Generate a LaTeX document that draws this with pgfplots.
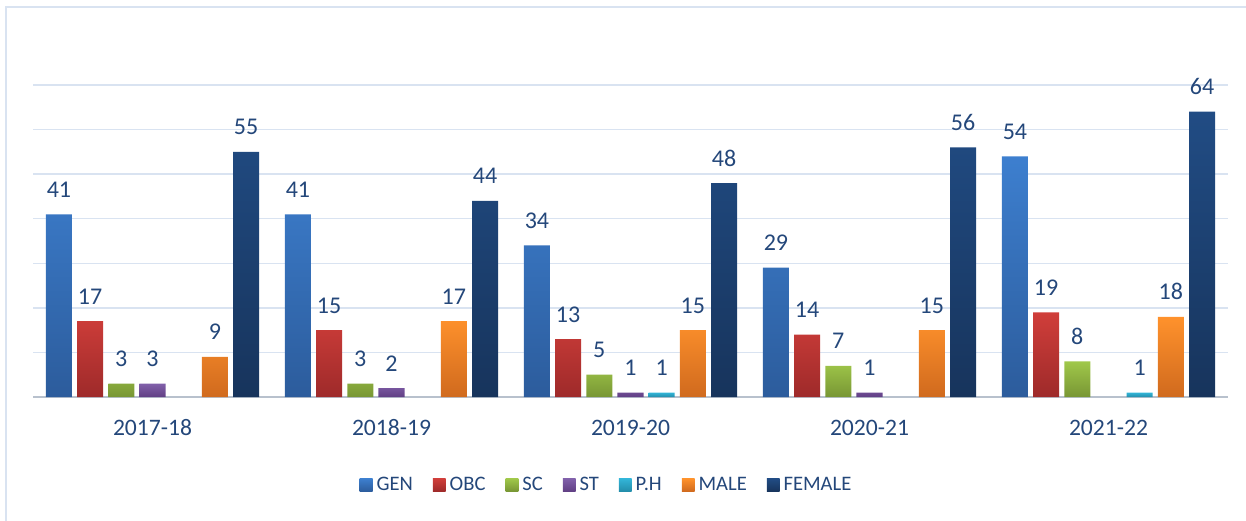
\documentclass[border=0pt]{standalone}
\usepackage{pgfplots}
\pgfplotsset{compat=1.18}
\usepackage{fontspec}
\setmainfont{Carlito}
\definecolor{txt}{HTML}{24477A}
\definecolor{gridc}{HTML}{D9E3F1}
\definecolor{genT}{HTML}{3D7FCF}\definecolor{genB}{HTML}{2C5C9C}
\definecolor{obcT}{HTML}{D03E3A}\definecolor{obcB}{HTML}{9E2A2A}
\definecolor{scT}{HTML}{A0C84A}\definecolor{scB}{HTML}{789634}
\definecolor{stT}{HTML}{8160AA}\definecolor{stB}{HTML}{613F84}
\definecolor{phT}{HTML}{33B5D8}\definecolor{phB}{HTML}{238DAA}
\definecolor{maT}{HTML}{FF922C}\definecolor{maB}{HTML}{D06A1E}
\definecolor{feT}{HTML}{214C84}\definecolor{feB}{HTML}{17345C}
\begin{document}
\begin{tikzpicture}
\useasboundingbox (-16.5pt,-61.5pt) rectangle (606.5pt,198.5pt);
\draw[draw=gridc, line width=1pt] (-13.5pt,-62pt) -- (-13.5pt,195pt) -- (607pt,195pt);
\begin{axis}[
  at={(0pt,0pt)}, anchor=south west,
  scale only axis, width=597.5pt, height=156pt,
  xmin=-0.5, xmax=4.5, ymin=0, ymax=70,
  ybar, bar width=0.109,
  xtick={0,1,2,3,4},
  xticklabels={2017-18,2018-19,2019-20,2020-21,2021-22},
  xticklabel style={anchor=base, yshift=-19pt, font=\fontsize{11.8pt}{13pt}\selectfont, text=txt},
  major tick length=0pt,
  ytick={0,10,...,70}, yticklabels={},
  ymajorgrids, grid style={draw=gridc, line width=0.7pt},
  axis x line*=bottom, axis y line*=left,
  y axis line style={draw=none},
  x axis line style={draw=gridc!85!black, line width=0.8pt, -},
  /pgf/number format/assume math mode=true,
  nodes near coords,
  every node near coord/.append style={anchor=base, inner sep=0pt, yshift=8.5pt, text=txt, font=\fontsize{12pt}{14pt}\selectfont},
  legend style={at={(0.4808,-0.282)}, anchor=center, draw=none, fill=none,
    legend columns=-1, font=\fontsize{10.3pt}{12pt}\selectfont, text=txt,
    /tikz/every even column/.append style={column sep=8pt}},
  legend image code/.code={\fill[#1] (0pt,-3.2pt) rectangle (6.4pt,3.2pt);},
  clip=false,
]
\addplot[draw=none, top color=genT, bottom color=genB, bar shift=-0.3915] coordinates {(0,41)(1,41)(2,34)(3,29)(4,54)};
\addplot[draw=none, top color=obcT, bottom color=obcB, bar shift=-0.261] coordinates {(0,17)(1,15)(2,13)(3,14)(4,19)};
\addplot[draw=none, top color=scT, bottom color=scB, bar shift=-0.1305] coordinates {(0,3)(1,3)(2,5)(3,7)(4,8)};
\addplot[draw=none, top color=stT, bottom color=stB, bar shift=0] coordinates {(0,3)(1,2)(2,1)(3,1)};
\addplot[draw=none, top color=phT, bottom color=phB, bar shift=0.1305] coordinates {(2,1)(4,1)};
\addplot[draw=none, top color=maT, bottom color=maB, bar shift=0.261] coordinates {(0,9)(1,17)(2,15)(3,15)(4,18)};
\addplot[draw=none, top color=feT, bottom color=feB, bar shift=0.3915] coordinates {(0,55)(1,44)(2,48)(3,56)(4,64)};
\legend{GEN,OBC,SC,ST,P.H,MALE,FEMALE}
\end{axis}
\end{tikzpicture}
\end{document}
